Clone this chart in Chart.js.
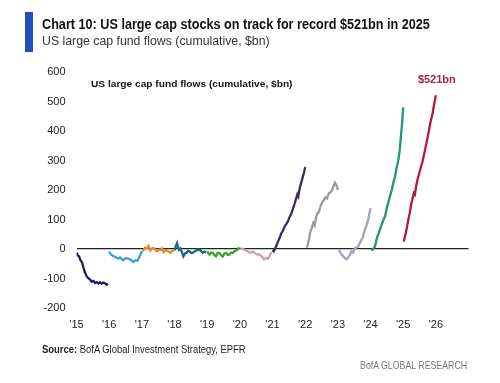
<!DOCTYPE html>
<html><head><meta charset="utf-8">
<script src="https://cdn.jsdelivr.net/npm/chart.js@4.4.1/dist/chart.umd.min.js"></script>
<style>
html,body{margin:0;padding:0;background:#fff;}
#wrap{position:relative;width:500px;height:383px;overflow:hidden;background:#fff;}
canvas{position:absolute;left:0;top:0;}
.t{position:absolute;white-space:nowrap;font-family:"Liberation Sans","Noto Sans",sans-serif;transform-origin:0 50%;}
#bar{position:absolute;left:25px;top:12px;width:8px;height:40px;background:#1f4fbf;}
#title{left:42px;top:17px;font-size:14.5px;line-height:14.5px;font-weight:bold;color:#111;}
#sub{left:42px;top:33.5px;font-size:13px;line-height:13px;color:#333;}
#inner{left:91px;top:79px;font-size:9.5px;line-height:9.5px;font-weight:bold;color:#111;}
#src{left:42px;top:344px;font-size:11px;line-height:11px;color:#222;}
#bofa{right:33px;top:359.5px;font-size:11px;line-height:11px;color:#777;transform-origin:100% 50%;}
</style></head>
<body><div id="wrap">
<canvas id="c" width="500" height="383"></canvas>
<div id="bar"></div>
<div class="t" id="title" data-w="388">Chart 10: US large cap stocks on track for record $521bn in 2025</div>
<div class="t" id="sub" data-w="228">US large cap fund flows (cumulative, $bn)</div>
<div class="t" id="inner" data-w="201">US large cap fund flows (cumulative, $bn)</div>
<div class="t" id="src" data-w="204"><b>Source:</b> BofA Global Investment Strategy, EPFR</div>
<div class="t" id="bofa" data-w="107">BofA GLOBAL RESEARCH</div>
</div>
<script>
// Cumulative US large cap fund flows, $bn, [year position, value]
const flows2015 = [[2015.0,-12],[2015.04,-22],[2015.08,-25],[2015.12,-38],[2015.17,-45],[2015.21,-62],[2015.26,-80],[2015.31,-92],[2015.36,-99],[2015.42,-104],[2015.47,-111],[2015.52,-108],[2015.57,-115],[2015.62,-112],[2015.67,-117],[2015.72,-113],[2015.77,-118],[2015.82,-114],[2015.87,-116],[2015.92,-121],[2015.97,-119]];
const flows2016 = [[2016.0,-9],[2016.05,-18],[2016.1,-22],[2016.18,-26],[2016.28,-33],[2016.33,-29],[2016.43,-38],[2016.5,-31],[2016.57,-33],[2016.64,-35],[2016.74,-44],[2016.8,-38],[2016.86,-40],[2016.92,-28],[2016.96,-18],[2017.0,-7]];
const flows2017 = [[2017.0,-5],[2017.05,-4],[2017.1,4],[2017.16,3],[2017.2,10],[2017.26,-5],[2017.31,2],[2017.36,4],[2017.42,-3],[2017.47,-8],[2017.52,-2],[2017.57,-3],[2017.62,2],[2017.67,-10],[2017.72,-4],[2017.77,-5],[2017.82,-9],[2017.88,-13],[2017.93,-6],[2017.98,-8]];
const flows2018 = [[2018.0,-5],[2018.04,9],[2018.08,20],[2018.11,5],[2018.14,-3],[2018.18,2],[2018.22,-8],[2018.27,-25],[2018.32,-15],[2018.37,-13],[2018.42,-6],[2018.47,-9],[2018.52,-14],[2018.57,-12],[2018.62,-8],[2018.67,-5],[2018.72,-3],[2018.77,-2],[2018.82,-8],[2018.87,-13],[2018.92,-9],[2018.97,-12]];
const flows2019 = [[2019.0,-8],[2019.07,-19],[2019.12,-12],[2019.17,-13],[2019.22,-20],[2019.27,-25],[2019.32,-14],[2019.37,-13],[2019.43,-22],[2019.48,-25],[2019.53,-15],[2019.58,-13],[2019.63,-20],[2019.68,-19],[2019.73,-12],[2019.78,-14],[2019.83,-8],[2019.88,-6],[2019.93,-2],[2019.98,6]];
const flows2020 = [[2020.02,3],[2020.08,1],[2020.13,-2],[2020.18,-4],[2020.23,-8],[2020.28,-10],[2020.33,-13],[2020.38,-9],[2020.43,-10],[2020.48,-15],[2020.53,-19],[2020.58,-18],[2020.64,-22],[2020.69,-28],[2020.74,-35],[2020.8,-30],[2020.86,-33],[2020.92,-22],[2020.97,-10]];
const flows2021 = [[2021.0,-3],[2021.04,-8],[2021.08,2],[2021.12,12],[2021.17,25],[2021.22,38],[2021.27,53],[2021.32,62],[2021.37,76],[2021.42,84],[2021.47,93],[2021.52,108],[2021.58,121],[2021.63,138],[2021.68,155],[2021.72,170],[2021.76,185],[2021.79,178],[2021.83,205],[2021.88,225],[2021.93,245],[2021.97,262],[2022.0,278]];
const flows2022 = [[2022.05,5],[2022.08,15],[2022.12,35],[2022.16,60],[2022.2,70],[2022.25,88],[2022.29,80],[2022.33,105],[2022.37,120],[2022.42,125],[2022.47,145],[2022.52,158],[2022.57,165],[2022.62,175],[2022.67,172],[2022.72,188],[2022.77,192],[2022.82,198],[2022.87,215],[2022.91,225],[2022.95,218],[2023.0,200]];
const flows2023 = [[2023.03,-3],[2023.08,-12],[2023.12,-20],[2023.17,-25],[2023.22,-32],[2023.27,-35],[2023.32,-28],[2023.37,-20],[2023.42,-8],[2023.47,-12],[2023.52,2],[2023.57,5],[2023.62,8],[2023.67,20],[2023.72,30],[2023.77,42],[2023.82,64],[2023.88,80],[2023.93,100],[2024.0,138]];
const flows2024 = [[2024.02,-3],[2024.06,-2],[2024.1,2],[2024.14,10],[2024.18,30],[2024.22,45],[2024.26,55],[2024.3,70],[2024.35,85],[2024.4,100],[2024.45,112],[2024.5,140],[2024.55,160],[2024.6,180],[2024.65,200],[2024.7,225],[2024.75,245],[2024.8,275],[2024.85,300],[2024.89,330],[2024.93,380],[2024.97,430],[2025.0,480]];
const flows2025 = [[2025.02,25],[2025.06,45],[2025.1,64],[2025.15,95],[2025.2,121],[2025.25,155],[2025.3,177],[2025.33,190],[2025.36,185],[2025.4,215],[2025.45,240],[2025.52,268],[2025.6,300],[2025.67,336],[2025.75,380],[2025.83,426],[2025.9,460],[2026.0,521]];

const seriesList = [flows2015,flows2016,flows2017,flows2018,flows2019,flows2020,flows2021,flows2022,flows2023,flows2024,flows2025];
const seriesColors = ['#1b1f5e','#3aa0d0','#e08a2c','#1d6a80','#3aa330','#c9a0b4','#3d2a5c','#9a9a9a','#a0a4b8','#22957a','#b8173f'];
const xTickLabels = ["'15","'16","'17","'18","'19","'20","'21","'22","'23","'24","'25","'26"];
const annotationText = '$521bn';
const annotationPoint = [2026.0, 521];

// condense HTML text horizontally to the reference widths
document.querySelectorAll('.t[data-w]').forEach(el=>{
  const k = parseFloat(el.dataset.w) / el.scrollWidth;
  el.style.transform = 'scaleX(' + k.toFixed(4) + ')';
});

const labelPlugin = {
  id:'label521',
  afterDatasetsDraw(chart){
    const {ctx, scales:{x,y}} = chart;
    ctx.save();
    ctx.font = 'bold 11px "Liberation Sans",sans-serif';
    ctx.fillStyle = '#a3284e';
    ctx.textAlign = 'center';
    ctx.textBaseline = 'middle';
    ctx.fillText(annotationText, x.getPixelForValue(annotationPoint[0]) + 1, y.getPixelForValue(annotationPoint[1]) - 15);
    ctx.restore();
  }
};

new Chart(document.getElementById('c'), {
  type:'line',
  data:{
    datasets: seriesList.map((s,i)=>({
      data: s.map(([x,y])=>({x,y})),
      borderColor: seriesColors[i],
      borderWidth: 2.3,
      pointRadius: 0,
      tension: 0,
      fill: false
    }))
  },
  options:{
    responsive:false,
    animation:false,
    layout:{padding:{top:72,right:31.5,bottom:0,left:0}},
    plugins:{legend:{display:false},tooltip:{enabled:false},title:{display:false}},
    scales:{
      x:{type:'linear',min:2015,max:2027,
        ticks:{stepSize:1,autoSkip:false,maxRotation:0,padding:10,color:'#222',
          font:{family:'"Liberation Sans", sans-serif',size:11},
          callback:(v)=> xTickLabels[Math.round(v)-2015] ?? ''},
        grid:{display:false,drawTicks:false},
        border:{display:false},
        afterFit(s){s.height=75;}
      },
      y:{min:-200,max:600,
        ticks:{stepSize:100,padding:11,color:'#222',font:{family:'"Liberation Sans", sans-serif',size:11}},
        grid:{drawTicks:false,lineWidth:1.2,color:(c)=> c.tick && c.tick.value===0 ? '#222' : 'rgba(0,0,0,0)'},
        border:{display:false},
        afterFit(s){s.width=76.5;}
      }
    }
  },
  plugins:[labelPlugin]
});
</script>
</body></html>
